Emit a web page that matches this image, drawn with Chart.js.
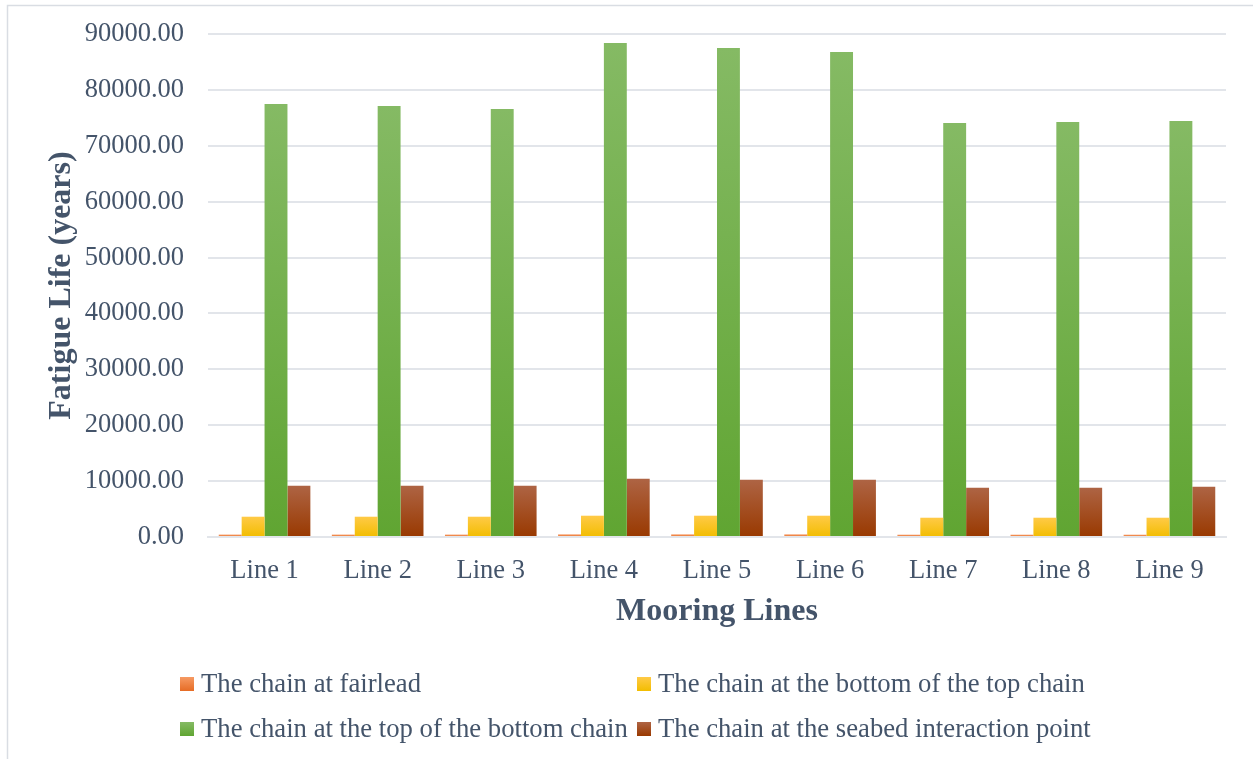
<!DOCTYPE html>
<html>
<head>
<meta charset="utf-8">
<script src="https://cdn.jsdelivr.net/npm/chart.js@4.4.0/dist/chart.umd.min.js"></script>
<style>
  html, body { margin: 0; padding: 0; background: #ffffff; }
  #wrap { position: relative; width: 1253px; height: 759px; }
  canvas { display: block; }
</style>
</head>
<body>
<div id="wrap"><canvas id="c" width="1253" height="759"></canvas></div>
<script>
// Mooring lines along the x axis
const categories = ['Line 1', 'Line 2', 'Line 3', 'Line 4', 'Line 5', 'Line 6', 'Line 7', 'Line 8', 'Line 9'];

// Fatigue life (years) at each chain location
const fairlead      = [430, 430, 430, 470, 470, 470, 410, 410, 410];
const bottomOfTop   = [3630, 3630, 3630, 3810, 3810, 3810, 3450, 3450, 3450];
const topOfBottom   = [77490, 77130, 76590, 88400, 87500, 86790, 74090, 74270, 74450];
const seabedPoint   = [9180, 9180, 9180, 10430, 10250, 10250, 8820, 8820, 9000];

const seriesNames = [
  'The chain at fairlead',
  'The chain at the bottom of the top chain',
  'The chain at the top of the bottom chain',
  'The chain at the seabed interaction point'
];

// y axis tick values
const yTicks = [0, 10000, 20000, 30000, 40000, 50000, 60000, 70000, 80000, 90000];

// top / bottom colours of each series' vertical gradient
const gradientStops = [
  ['#f69a63', '#e66c25'],
  ['#ffca47', '#f2bd00'],
  ['#85ba64', '#60a532'],
  ['#ae6444', '#993900']
];

const textColor = '#44546a';
const gridColor = '#e2e5ea';
const serif = "'Liberation Serif', 'Times New Roman', serif";

function barGradient(idx) {
  return function (ctx) {
    const chart = ctx.chart;
    const stops = gradientStops[idx];
    if (ctx.type !== 'data' || !chart.chartArea || !chart.scales.y) return stops[1];
    const y = chart.scales.y;
    const top = y.getPixelForValue(ctx.raw);
    const base = y.getPixelForValue(0);
    const g = chart.ctx.createLinearGradient(0, top, 0, Math.max(base, top + 1));
    g.addColorStop(0, stops[0]);
    g.addColorStop(1, stops[1]);
    return g;
  };
}

const seriesValues = [fairlead, bottomOfTop, topOfBottom, seabedPoint];

const datasets = seriesValues.map((vals, i) => ({
  label: seriesNames[i],
  data: vals,
  backgroundColor: barGradient(i),
  borderWidth: 0,
  categoryPercentage: 0.81,
  barPercentage: 1.0
}));

// outer frame (left and top edges) behind the chart
const framePlugin = {
  id: 'frame',
  beforeDraw(chart) {
    const c = chart.ctx;
    c.save();
    c.strokeStyle = '#d9dde3';
    c.lineWidth = 1.5;
    c.beginPath();
    c.moveTo(7.5, 759);
    c.lineTo(7.5, 5.5);
    c.lineTo(1253, 5.5);
    c.stroke();
    c.restore();
  }
};

// two-column legend under the axis title
const legendPlugin = {
  id: 'gridLegend',
  afterDraw(chart) {
    const c = chart.ctx;
    const cols = [180, 637];
    const rows = [677, 722];
    const box = 14;
    c.save();
    c.font = '26.7px ' + serif;
    c.textBaseline = 'alphabetic';
    chart.data.datasets.forEach((ds, i) => {
      const x = cols[i % 2];
      const y = rows[Math.floor(i / 2)];
      const g = c.createLinearGradient(0, y, 0, y + box);
      g.addColorStop(0, gradientStops[i][0]);
      g.addColorStop(1, gradientStops[i][1]);
      c.fillStyle = g;
      c.fillRect(x, y, box, box);
      c.fillStyle = textColor;
      c.fillText(ds.label, x + 21, y + 15);
    });
    c.restore();
  }
};

new Chart(document.getElementById('c'), {
  type: 'bar',
  data: { labels: categories, datasets: datasets },
  plugins: [framePlugin, legendPlugin],
  options: {
    responsive: false,
    animation: false,
    layout: { padding: { left: 0, top: 34, right: 27, bottom: 122 } },
    plugins: {
      legend: { display: false },
      tooltip: { enabled: false }
    },
    scales: {
      x: {
        grid: { display: false, drawTicks: false },
        border: { display: true, color: gridColor, width: 2 },
        ticks: {
          color: textColor,
          font: { family: serif, size: 26.5 },
          padding: 18,
          maxRotation: 0
        },
        title: {
          display: true,
          text: 'Mooring Lines',
          color: textColor,
          font: { family: serif, size: 32, weight: 'bold' },
          padding: { top: 0, bottom: 6 }
        },
        afterFit(scale) {
          scale.height = 100;
          scale.paddingLeft = 0;
          scale.paddingRight = 0;
        }
      },
      y: {
        min: 0,
        max: 90000,
        afterBuildTicks(scale) { scale.ticks = yTicks.map(v => ({ value: v })); },
        grid: { color: gridColor, lineWidth: 2, drawTicks: false },
        border: { display: false },
        ticks: {
          color: textColor,
          font: { family: serif, size: 26.5 },
          padding: 24,
          callback: v => Number(v).toFixed(2)
        },
        title: {
          display: true,
          text: 'Fatigue Life (years)',
          color: textColor,
          font: { family: serif, size: 32, weight: 'bold' },
          padding: { top: 43, bottom: 0 }
        },
        afterFit(scale) {
          scale.width = 208;
          scale.paddingTop = 0;
          scale.paddingBottom = 0;
        }
      }
    }
  }
});
</script>
</body>
</html>
